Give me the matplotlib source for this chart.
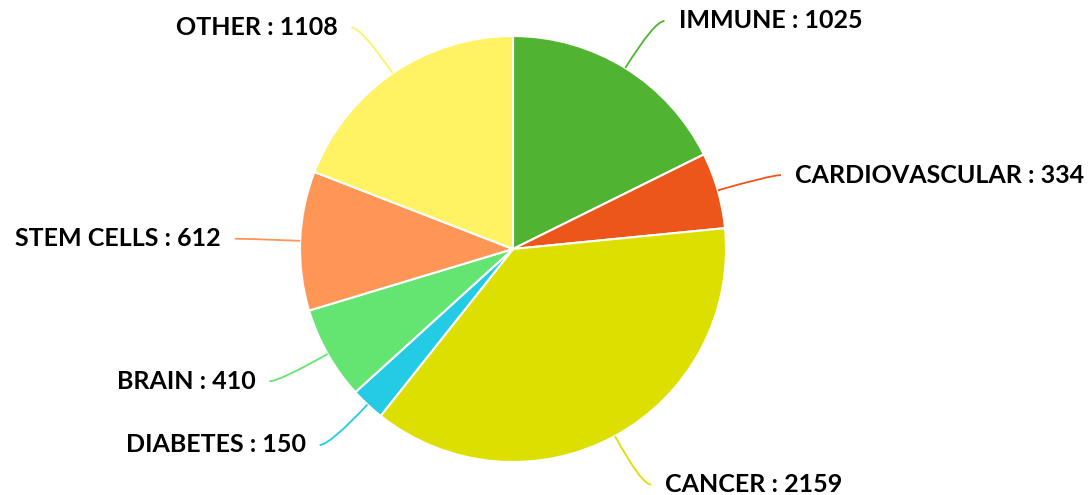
import numpy as np
import matplotlib.pyplot as plt
from matplotlib.path import Path
from matplotlib.patches import PathPatch

# data
LABELS = ["IMMUNE", "CARDIOVASCULAR", "CANCER", "DIABETES", "BRAIN", "STEM CELLS", "OTHER"]
VALUES = [1025, 334, 2159, 150, 410, 612, 1108]
COLORS = ["#50B432", "#ED561B", "#DDDF00", "#24CBE5", "#64E572", "#FF9655", "#FFF263"]

W, H = 1089, 495
CX, CY, R = 513, 246, 213

fig = plt.figure(figsize=(W / 100, H / 100), dpi=100)
ax = fig.add_axes([0, 0, 1, 1])

wedges, _ = ax.pie(
    VALUES, colors=COLORS, startangle=90, counterclock=False,
    center=(CX, CY), radius=R,
    wedgeprops=dict(edgecolor="white", linewidth=1.5),
)
ax.set_xlim(0, W)
ax.set_ylim(0, H)
ax.set_aspect("equal")
ax.axis("off")

for w, lab, val, col in zip(wedges, LABELS, VALUES, COLORS):
    mid = np.deg2rad((w.theta1 + w.theta2) / 2)
    c, s = np.cos(mid), np.sin(mid)
    side = 1 if c >= 0 else -1
    p0 = (CX + R * c, CY + R * s)
    rk = R * 1.26
    p1 = (CX + rk * c, CY + rk * s)
    p2 = (p1[0] + side * 10, p1[1])
    path = Path([p0, p1, p2], [Path.MOVETO, Path.CURVE3, Path.CURVE3])
    ax.add_patch(PathPatch(path, fill=False, edgecolor=col, linewidth=1.3))
    ax.text(p1[0] + side * 24, p1[1], f"{lab} : {val}",
            ha="left" if side > 0 else "right", va="center",
            fontsize=18, fontweight="bold", family="Lato", color="black")

fig.savefig("out.png", dpi=100, facecolor="white")
